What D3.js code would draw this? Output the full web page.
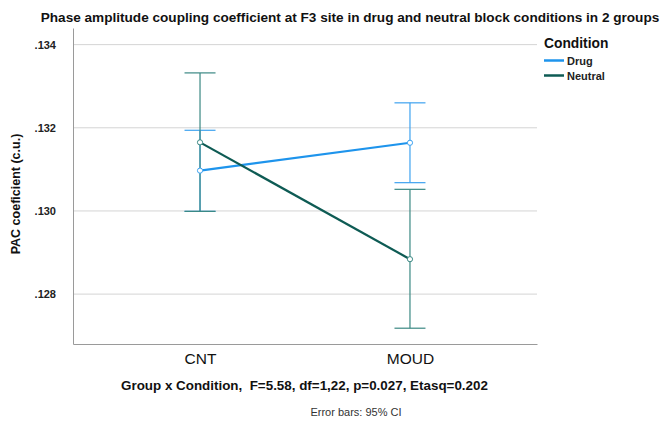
<!DOCTYPE html>
<html>
<head>
<meta charset="utf-8">
<script src="https://cdn.jsdelivr.net/npm/d3@7"></script>
<style>
  body { margin: 0; background: #fff; }
  text { font-family: "Liberation Sans", Arial, sans-serif; }
</style>
</head>
<body>
<div id="chart"></div>
<script>
// groups on the x axis
let groups = ["CNT", "MOUD"];
let conditions = ["Drug", "Neutral"];
// estimated means and 95% CI per condition, in group order
let drugMean = [0.13097, 0.13164];
let drugLow = [0.12999, 0.13068];
let drugHigh = [0.13194, 0.13260];
let neutralMean = [0.13165, 0.12884];
let neutralLow = [0.12999, 0.12718];
let neutralHigh = [0.13332, 0.13052];
let yTicks = [0.128, 0.130, 0.132, 0.134];

let series = [
    {name: "Drug", mean: drugMean, low: drugLow, high: drugHigh,
     line: "#1e94ec", bar: "#3ea2f0"},
    {name: "Neutral", mean: neutralMean, low: neutralLow, high: neutralHigh,
     line: "#0e5b54", bar: "#3a8883"}
];

let margin = {top: 28, left: 73, right: 128, bottom: 77};
let width = 665, height = 421;
let innerW = width - margin.left - margin.right;
let innerH = height - margin.top - margin.bottom;

let svg = d3.select("#chart").append("svg")
    .attr("width", width)
    .attr("height", height);

let g = svg.append("g")
    .attr("transform", "translate(" + margin.left + "," + margin.top + ")");

let x = d3.scalePoint()
    .domain(groups)
    .range([0, innerW])
    .padding(0.605);

let y = d3.scaleLinear()
    .domain([0.1268, 0.1344])
    .range([innerH, 0]);

// grid lines
g.selectAll(".grid")
    .data(yTicks)
    .enter().append("line")
    .attr("x1", 0)
    .attr("x2", innerW)
    .attr("y1", d => y(d))
    .attr("y2", d => y(d))
    .attr("stroke", "#d4d4d4")
    .attr("stroke-width", 1);

// y axis
let yAxis = d3.axisLeft(y)
    .tickValues(yTicks)
    .tickSize(0)
    .tickPadding(17)
    .tickFormat(d => d3.format(".3f")(d).replace(/^0/, ""));

g.append("g")
    .call(yAxis)
    .call(s => s.select(".domain").attr("stroke", "#9a9a9a"))
    .selectAll("text")
    .attr("font-size", "11px")
    .attr("font-weight", "bold")
    .attr("fill", "#222");

// x axis
let xAxis = d3.axisBottom(x)
    .tickSize(0)
    .tickPadding(9);

g.append("g")
    .attr("transform", "translate(0," + innerH + ")")
    .call(xAxis)
    .call(s => s.select(".domain").attr("stroke", "#9a9a9a"))
    .selectAll("text")
    .attr("font-size", "15.5px")
    .attr("fill", "#111");

// error bars
let cap = 15.5;
series.forEach(function(s) {
    let bars = g.append("g");
    groups.forEach(function(gr, i) {
        let cx = x(gr);
        bars.append("line")
            .attr("x1", cx).attr("x2", cx)
            .attr("y1", y(s.low[i])).attr("y2", y(s.high[i]))
            .attr("stroke", s.bar).attr("stroke-width", 1.2);
        [s.low[i], s.high[i]].forEach(function(v) {
            bars.append("line")
                .attr("x1", cx - cap).attr("x2", cx + cap)
                .attr("y1", y(v)).attr("y2", y(v))
                .attr("stroke", s.bar).attr("stroke-width", 1.2);
        });
    });
});

// mean lines
let line = d3.line()
    .x((d, i) => x(groups[i]))
    .y(d => y(d));

series.forEach(function(s) {
    g.append("path")
        .datum(s.mean)
        .attr("fill", "none")
        .attr("stroke", s.line)
        .attr("stroke-width", 2.2)
        .attr("d", line);
    g.selectAll(null)
        .data(s.mean)
        .enter().append("circle")
        .attr("cx", (d, i) => x(groups[i]))
        .attr("cy", d => y(d))
        .attr("r", 2.6)
        .attr("fill", "#fff")
        .attr("stroke", s.bar)
        .attr("stroke-width", 1);
});

// title
svg.append("text")
    .attr("x", 350)
    .attr("y", 22)
    .attr("text-anchor", "middle")
    .attr("font-size", "13.6px")
    .attr("font-weight", "bold")
    .attr("fill", "#111")
    .text("Phase amplitude coupling coefficient at F3 site in drug and neutral block conditions in 2 groups");

// y label
svg.append("text")
    .attr("transform", "translate(20,194) rotate(-90)")
    .attr("text-anchor", "middle")
    .attr("font-size", "12.5px")
    .attr("font-weight", "bold")
    .attr("fill", "#111")
    .text("PAC coeficient (c.u.)");

// legend
let legend = svg.append("g").attr("transform", "translate(544,0)");
legend.append("text")
    .attr("x", 0).attr("y", 48)
    .attr("font-size", "13.8px")
    .attr("font-weight", "bold")
    .attr("fill", "#111")
    .text("Condition");
series.forEach(function(s, i) {
    let ly = 60.5 + i * 15;
    legend.append("line")
        .attr("x1", 0).attr("x2", 20)
        .attr("y1", ly).attr("y2", ly)
        .attr("stroke", s.line).attr("stroke-width", 2.5);
    legend.append("text")
        .attr("x", 23).attr("y", ly + 4)
        .attr("font-size", "11px")
        .attr("font-weight", "bold")
        .attr("fill", "#222")
        .text(s.name);
});

// stats note
svg.append("text")
    .attr("x", 121)
    .attr("y", 390)
    .attr("font-size", "13.4px")
    .attr("font-weight", "bold")
    .attr("fill", "#111")
    .attr("xml:space", "preserve")
    .style("white-space", "pre")
    .text("Group x Condition,  F=5.58, df=1,22, p=0.027, Etasq=0.202");

svg.append("text")
    .attr("x", 356)
    .attr("y", 416)
    .attr("text-anchor", "middle")
    .attr("font-size", "11px")
    .attr("fill", "#333")
    .text("Error bars: 95% CI");
</script>
</body>
</html>
